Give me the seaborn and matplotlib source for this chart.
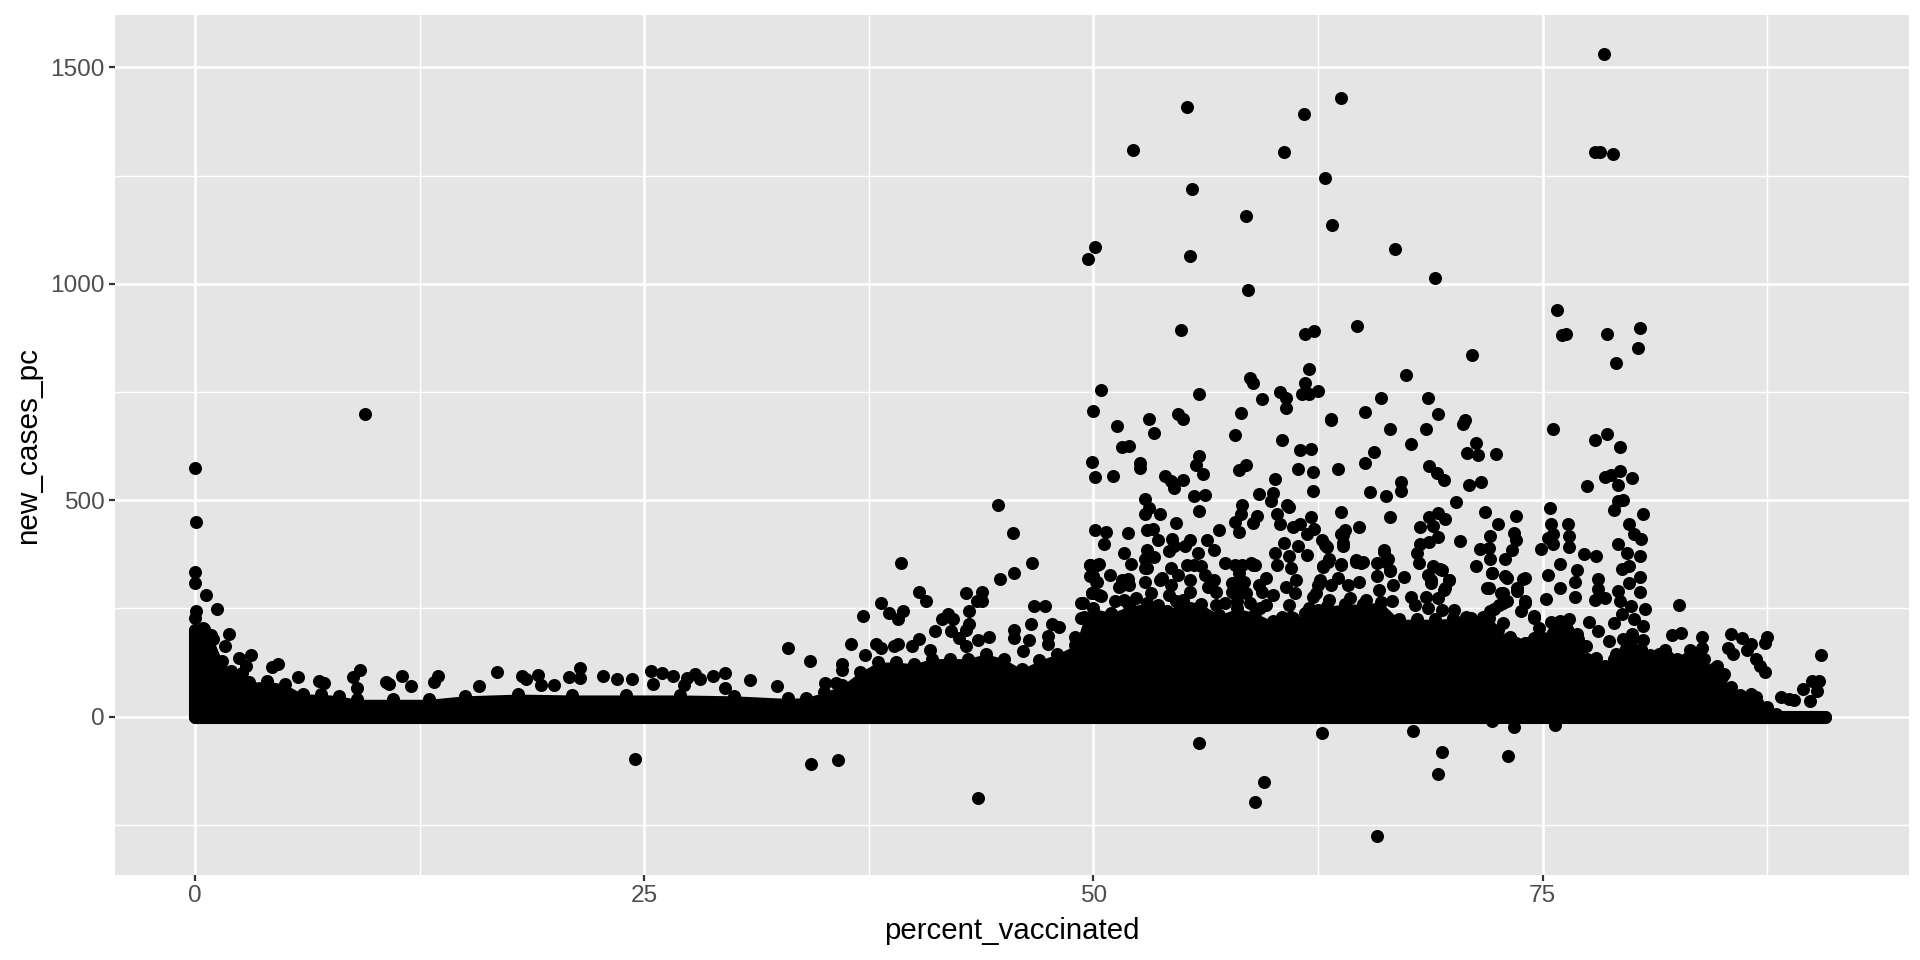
import numpy as np
import pandas as pd
import matplotlib.pyplot as plt
import seaborn as sns

# (percent_vaccinated, new_cases_pc), one list per region.
pts_high = [(78.4,1532),(63.8,1429),(55.2,1408),(61.7,1392),(52.2,1308),(60.6,1304),(77.9,1304),(78.2,1304),
            (78.9,1300),(62.9,1244),(55.5,1219),(58.5,1157),(63.3,1136),(50.1,1084),(49.7,1058),(55.4,1065),
            (66.8,1080),(69.0,1014),(58.6,985),(75.8,939),(76.3,885),(76.1,881),(80.4,898),(78.6,884),
            (80.3,851),(79.1,816),(54.9,893),(61.8,885),(62.3,891),(64.7,902),(71.1,836),(62.0,803),
            (67.4,790),(58.7,782),(58.9,770),(61.8,770),(55.9,746),(50.4,754),(60.4,750),(60.7,736),
            (59.4,733),(61.6,746),(62.0,746),(62.5,753),(66.0,737),(68.6,737),(50.0,705),(58.2,702),
            (60.7,713),(65.1,703),(69.2,700),(53.1,687),(54.7,698),(55.0,687),(63.2,687),(70.7,686)]

pts_left = [(9.45,698),(0,575),(0.05,449),(0,334),(0,308),(0.6,282),(1.2,248),(0.07,244),(0,228),(1.9,190),
            (0.45,205),(0.9,188),(1.66,163),(2.45,135),(3.1,143),(2.85,117),(2.6,101),(4.3,115),(4.6,122),
            (5.75,92),(6.9,82),(7.2,78),(8.8,92),(9.2,107),(9.0,65),(10.6,81),(10.8,75),(11.5,94),(12.0,71),
            (13.3,81),(13.5,94),(15.8,71),(16.8,104),(18.2,94),(18.4,86),(19.1,95),(19.25,72),(20.0,72),
            (20.8,92),(21.4,113),(21.4,90),(22.7,94),(23.5,86),(24.3,88),(24.5,-98),(25.4,105),(26.0,101),
            (26.6,94),(25.5,75),(27.4,90),(27.8,98),(28.1,88),(27.2,72),(28.8,93),(29.5,100),(29.5,66),(30.9,85)]

pts_mid = [(32.4,71),(33.0,158),(34.2,128),(35.05,78),(35.7,78),(36.5,168),(36.0,121),(36.0,108),(37.2,232),
           (38.2,263),(38.6,240),(39.1,226),(39.4,244),(39.3,356),(40.3,288),(40.7,268),(37.9,168),(37.3,142),
           (38.2,159),(39.1,168),(38.9,163),(39.9,163),(40.3,180),(40.9,155),(41.2,198),(41.6,225),(41.9,236),
           (42.2,225),(42.1,198),(42.5,182),(42.9,285),(43.8,288),(43.5,267),(43.8,268),(43.1,244),(43.1,213),
           (42.9,201),(43.6,177),(44.2,185),(42.9,162),(44.7,490),(45.5,425),(44.8,319),(45.6,331),(46.6,355),
           (46.7,255),(47.3,256),(46.5,215),(45.6,199),(47.7,215),(48.1,208),(47.5,186),(45.6,182),(46.4,178),
           (46.1,152),(47.5,167),(49.0,185),(49.3,263),(49.3,227),(49.8,350),(50.3,352),(50.0,325),(50.2,311),
           (49.9,286),(50.4,278),(50.9,328),(51.3,671),(53.4,655),(57.9,650),(51.6,624),(52.0,626),(49.9,589),
           (50.1,554),(51.1,557),(52.6,585),(52.6,575),(54.0,555),(54.3,544),(54.5,528),(55.0,547),(55.9,601),
           (55.7,582),(56.1,560),(58.1,569),(58.5,582),(55.6,509),(56.2,511),(55.9,476),(52.9,502),(53.1,482),
           (52.9,469),(53.7,467),(54.6,448),(58.3,490),(58.2,467),(57.9,450),(58.1,426),(57.0,430),(50.1,432),
           (50.7,427),(51.9,424),(50.6,398),(51.7,378),(52.1,352),(53.0,431),(53.3,434),(53.6,409),(53.0,385),
           (53.4,368),(52.9,363),(52.9,344),(54.4,411),(54.5,394),(54.2,382),(55.1,395),(55.4,408),(56.3,407),
           (55.8,378),(56.7,386),(57.3,355),(57.9,350),(58.8,355),(58.0,309),(58.1,290),(57.3,262),(53.8,321),
           (51.9,317),(51.6,305)]

pts_right = [(63.2,685),(66.5,664),(68.5,664),(70.6,676),(75.6,664),(67.7,630),(71.3,632),(70.8,609),(71.4,605),
             (72.4,606),(60.5,638),(61.5,616),(62.1,618),(65.6,611),(65.1,587),(61.4,573),(62.2,564),(63.6,573),
             (68.7,578),(69.1,562),(69.5,547),(60.1,550),(78.6,653),(77.9,638),(79.3,623),(77.5,533),(78.5,554),
             (79.3,567),(78.8,559),(79.2,534),(80.0,552),(67.1,542),(67.1,522),(70.9,535),(71.6,541),(62.2,521),
             (65.4,520),(66.3,509),(59.2,514),(60.0,517),(59.9,498),(70.2,495),(79.5,501),(79.2,498),(79.0,478),
             (75.4,481),(80.6,468),(71.8,472),(73.5,463),(63.8,472),(60.8,489),(60.9,485),(60.2,468),(59.1,463),
             (58.9,448),(60.4,446),(61.1,438),(61.5,446),(62.1,461),(66.5,461),(64.8,439),(62.3,434),(64.0,432),
             (63.8,422),(63.9,395),(61.9,421),(62.7,409),(63.0,392),(60.6,401),(61.4,394),(60.1,377),(61.9,374),
             (60.9,371),(60.2,350),(59.0,350),(63.1,365),(62.8,345),(66.2,385),(64.6,361),(65.0,358),(63.8,352),
             (66.4,363),(66.5,336),(67.3,322),(68.2,438),(68.7,461),(69.2,471),(69.6,457),(68.9,440),(69.2,415),
             (68.7,403),(68.2,398),(68.0,378),(68.1,355),(68.9,348),(69.3,340),(68.6,328),(68.8,309),(69.8,315),
             (69.5,292),(70.4,405),(71.3,347),(71.5,388),(72.5,444),(72.1,417),(72.0,390),(72.1,363),(72.9,365),
             (73.4,425),(73.5,409),(73.3,385),(72.2,332),(72.9,325),(73.9,319),(71.9,298),(72.8,286),(73.6,290),
             (74.0,267),(72.8,263),(72.3,248),(74.5,232),(74.9,387),(75.5,446),(75.6,421),(75.3,413),(75.6,398),
             (75.3,328),(76.4,444),(76.5,417),(76.5,392),(77.3,375),(78.0,371),(76.0,353),(76.9,338),(76.8,312),
             (76.0,298),(76.8,276),(75.2,271),(77.9,270),(78.5,273),(78.1,317),(78.1,294),(79.2,399),(79.8,445),
             (80.1,421),(80.5,411),(79.7,377),(80.4,372),(79.8,348),(79.4,342),(80.4,322),(79.8,309),(79.2,290),
             (80.4,288),(79.3,267),(79.9,255),(80.7,248),(79.4,236),(80.1,225),(79.0,217),(77.6,218),(78.1,198),
             (78.7,175),(80.6,209),(82.6,258),(82.7,194),(82.2,188),(83.9,184),(85.5,190),(86.1,182),(86.6,167),
             (87.5,185),(87.4,171),(85.3,159),(85.6,144),(86.4,155),(86.9,132),(87.1,117),(87.4,102),(90.5,142),
             (90.4,82),(90.0,82),(90.3,59),(89.5,63),(89.9,36),(89.0,38),(88.7,40),(88.3,46),(86.6,52),(86.9,45)]

pts_neg = [(62.7,-38),(67.8,-34),(69.4,-81),(69.2,-132),(73.1,-92),(73.4,-25),(75.7,-20),(72.2,-10),(59.5,-151),
           (59.0,-198),(65.8,-275),(34.3,-110),(35.8,-100),(43.6,-188),(55.9,-60)]

# clusters sitting on top of the solid part, x 49 to 62
pts_dense_a = [(49.8,351),(50.2,351),(49.8,324),(50.15,312),(49.9,285),(50.3,281),(49.4,262),(51.2,266),(51.6,316),
               (51.4,300),(52.0,304),(52.9,312),(53.7,316),(53.0,343),(53.2,285),(53.6,258),(52.4,273),(51.7,270),
               (54.3,343),(54.7,327),(54.3,304),(54.2,281),(54.1,243),(54.6,266),(55.2,351),(55.6,351),(56.0,347),
               (55.4,316),(56.2,327),(56.7,316),(56.8,289),(55.4,289),(56.4,300),(56.8,258),(55.9,254),(57.7,308),
               (57.7,289),(58.3,351),(58.9,351),(58.1,331),(58.4,312),(58.5,285),(58.0,266),(58.7,262),(59.2,304),
               (59.6,320),(60.0,281),(59.4,289),(59.3,250),(59.6,258),(57.9,231),(61.0,343),(61.3,316),(60.7,300),
               (61.2,285),(60.9,258),(60.5,231),(62.5,304),(62.2,277),(62.0,250),(61.1,227),(61.8,239),(62.5,246)]

# same again, x 62 to 75
pts_dense_b = [(62.9,397),(63.05,358),(62.8,347),(63.8,351),(63.9,401),(63.9,420),(62.6,316),(63.6,320),(64.2,304),
               (63.2,304),(64.6,358),(64.9,354),(65.8,354),(66.2,381),(66.3,358),(66.5,339),(65.8,324),(66.7,304),
               (65.9,293),(64.8,312),(67.7,277),(67.9,258),(66.6,266),(65.2,270),(64.3,273),(63.1,270),(62.4,285),
               (68.8,316),(68.5,277),(69.2,274),(69.4,247),(69.6,297),(69.8,316),(69.4,339),(70.05,247),(68.6,250),
               (70.75,231),(71.7,231),(72.1,243),(72.7,285),(73.0,266),(72.6,258),(72.0,297),(73.0,320),(72.2,331),
               (74.0,320),(73.6,297),(74.0,262),(73.8,243),(74.5,227),(74.8,204),(72.8,216),(72.05,208),(73.2,185),
               (74.5,181),(74.1,170),(76.9,190),(77.4,163),(76.05,159),(79.1,144),(80.6,178),(78.0,136),(74.6,178),
               (81.8,155),(83.2,155),(83.9,159),(84.7,117),(85.1,98),(80.0,190)]

# the points overlap into solid black here, so only the upper edge can be read
mass_x = [0,0.5,1,1.5,2,3,4,5,6,7,8,9,11,13,15,18,21,24,27,30,33,34,35,36,37,38,39,40,41,42,43,44,45,46,47,48,49,
          49.5,50,51,52,53,54,55,56,57,58,59,60,61,62,63,64,65,66,67,68,69,70,71,72,72.5,73,73.5,74,75,
          75.5,76,76.5,77,77.5,78,78.5,79,79.5,80,80.5,81,81.5,82,82.5,83,83.5,84,84.5,85,85.5,86,86.5,87,87.5,
          88,88.5,90.7]
mass_top = [200,202,179,129,105,79,82,75,52,52,48,40,40,40,48,52,50,50,50,48,42,44,56,72,103,126,126,122,134,134,
            134,145,134,110,130,145,165,230,250,240,255,262,240,270,260,235,250,240,220,230,235,255,260,260,265,
            225,225,225,227,227,227,200,180,170,170,181,218,220,226,180,134,126,118,134,180,180,156,142,145,138,
            134,134,145,134,110,91,68,49,41,30,22,7,0,0]

tick_x = [0, 25, 50, 75]
tick_y = [0, 500, 1000, 1500]
minor_x = [12.5, 37.5, 62.5, 87.5]
minor_y = [-250, 250, 750, 1250]

sns.set_theme(style='darkgrid', rc={'axes.facecolor': '#E5E5E5', 'axes.edgecolor': 'none'})
plt.rcParams['font.family'] = ['Liberation Sans', 'DejaVu Sans']

df = pd.DataFrame(pts_high + pts_left + pts_mid + pts_right + pts_neg + pts_dense_a + pts_dense_b,
                  columns=['percent_vaccinated', 'new_cases_pc'])
edge = pd.DataFrame({'percent_vaccinated': mass_x, 'new_cases_pc': mass_top})

fig = plt.figure(figsize=(9.6, 4.8), dpi=200)
ax = fig.add_axes([115/1920, 85/960, 1794/1920, 860/960])

ax.fill_between(mass_x, 0, mass_top, color='black', linewidth=0, zorder=3)
ax.plot([min(mass_x), max(mass_x)], [0, 0], color='black', lw=4.7, solid_capstyle='round', zorder=3)
ax.plot([mass_x[0], mass_x[0]], [0, mass_top[0]], color='black', lw=4.7, solid_capstyle='round', zorder=3)
sns.scatterplot(data=edge, x='percent_vaccinated', y='new_cases_pc', color='black', s=22, linewidth=0, zorder=3, ax=ax)
sns.scatterplot(data=df, x='percent_vaccinated', y='new_cases_pc', color='black', s=22, linewidth=0, zorder=3, ax=ax)

ax.set_xlim(-4.46, 95.4)
ax.set_ylim(-366, 1621)
ax.set_xticks(tick_x)
ax.set_yticks(tick_y)
ax.set_xticks(minor_x, minor=True)
ax.set_yticks(minor_y, minor=True)
ax.grid(True, which='major', color='white', lw=0.95)
ax.grid(True, which='minor', color='white', lw=0.5)
ax.set_axisbelow(True)
ax.tick_params(axis='both', which='major', length=2.2, width=0.8, color='#333333', labelcolor='#4D4D4D',
               labelsize=8.8, pad=1.5, bottom=True, left=True)
ax.tick_params(axis='both', which='minor', length=0)
ax.set_xlabel('percent_vaccinated', fontsize=10.6, color='black', labelpad=3.5)
ax.set_ylabel('new_cases_pc', fontsize=10.7, color='black', labelpad=3)

plt.savefig('out.png', dpi=200)
